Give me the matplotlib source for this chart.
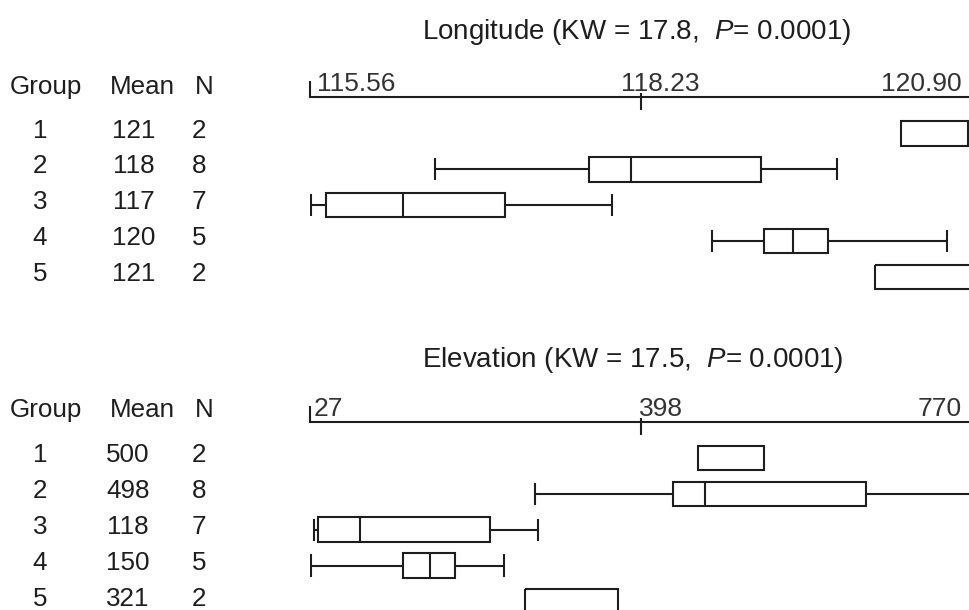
import matplotlib
matplotlib.use("Agg")
import matplotlib.pyplot as plt
from matplotlib.patches import Rectangle
from matplotlib.transforms import blended_transform_factory, offset_copy

plt.rcParams['font.family'] = ['Liberation Sans', 'DejaVu Sans']
plt.rcParams['mathtext.fontset'] = 'custom'
plt.rcParams['mathtext.rm'] = 'Liberation Sans'
plt.rcParams['mathtext.it'] = 'Liberation Sans:italic'

# ---------------- data ----------------
groups = [1, 2, 3, 4, 5]

lon_title = "Longitude (KW = 17.8,  $P$= 0.0001)"
lon_ticks = [115.56, 118.23, 120.90]
lon_ticklabels = ["115.56", "118.23", "120.90"]
lon_mean = [121, 118, 117, 120, 121]
lon_n = [2, 8, 7, 5, 2]
lon_whislo = [None, 116.57, 115.57, 118.80, None]
lon_q1 = [120.33, 117.81, 115.69, 119.22, 120.12]
lon_med = [None, 118.15, 116.31, 119.46, None]
lon_q3 = [120.87, 119.20, 117.13, 119.74, 121.50]
lon_whishi = [None, 119.81, 118.00, 120.70, None]

ele_title = "Elevation (KW = 17.5,  $P$= 0.0001)"
ele_ticks = [27, 398, 770]
ele_ticklabels = ["27", "398", "770"]
ele_mean = [500, 498, 118, 150, 321]
ele_n = [2, 8, 7, 5, 2]
ele_whislo = [None, 280, 32, 28, None]
ele_q1 = [463, 434, 36, 131, 268]
ele_med = [None, 470, 83, 162, None]
ele_q3 = [537, 651, 229, 190, 373]
ele_whishi = [None, 830, 283, 245, None]

# ---------------- layout ----------------
W, H, DPI = 969, 610, 100
fig = plt.figure(figsize=(W / DPI, H / DPI), dpi=DPI)
fig.patch.set_facecolor("white")

ROW_PX = 35.9
YMAX = 5.6
AX_LEFT_PX, AX_RIGHT_PX = 310, 972
INK = "#1e1e1e"
LW = 1.5
BOX_H = 0.68
CAP_H = 0.62


def panel(axis_line_px, title, title_xy_px, ticks, ticklabels, label_offsets,
          mean, n, whislo, q1, med, q3, whishi, header_dy, mean_x):
    height_px = YMAX * ROW_PX
    ax = fig.add_axes([AX_LEFT_PX / W, 1 - (axis_line_px + height_px) / H,
                       (AX_RIGHT_PX - AX_LEFT_PX) / W, height_px / H])
    ax.set_xlim(ticks[0], ticks[-1])
    ax.set_ylim(YMAX, 0)
    for s in ["left", "right", "bottom"]:
        ax.spines[s].set_visible(False)
    ax.spines["top"].set_linewidth(LW)
    ax.spines["top"].set_color(INK)
    ax.set_xticks([])
    ax.set_yticks([])
    ax.patch.set_alpha(0)

    # tick marks: ends point up, middle crosses the line
    up = 16.5 / ROW_PX
    ax.vlines([ticks[0], ticks[-1]], -up, 0, color=INK, lw=LW, clip_on=False)
    ax.vlines([ticks[1]], -4 / ROW_PX, 13 / ROW_PX, color=INK, lw=LW, clip_on=False)

    # tick labels
    for t, lab, (dx, ha) in zip(ticks, ticklabels, label_offsets):
        tr = offset_copy(ax.transData, fig=fig, x=dx, y=6, units='dots')
        ax.text(t, 0, lab, transform=tr, ha=ha, va='baseline', fontsize=19,
                color="#333333", clip_on=False)

    # title
    fig.text(title_xy_px[0] / W, 1 - title_xy_px[1] / H, title, ha='center',
             va='center', fontsize=20, color=INK)

    # boxes
    for i, g in enumerate(groups):
        y = g
        ax.add_patch(Rectangle((q1[i], y - BOX_H / 2), q3[i] - q1[i], BOX_H,
                               fill=False, ec=INK, lw=LW))
        if med[i] is not None:
            ax.vlines(med[i], y - BOX_H / 2, y + BOX_H / 2, color=INK, lw=LW)
        if whislo[i] is not None:
            ax.hlines(y, whislo[i], q1[i], color=INK, lw=LW)
            ax.vlines(whislo[i], y - CAP_H / 2, y + CAP_H / 2, color=INK, lw=LW)
        if whishi[i] is not None:
            ax.hlines(y, q3[i], whishi[i], color=INK, lw=LW)
            ax.vlines(whishi[i], y - CAP_H / 2, y + CAP_H / 2, color=INK, lw=LW)

    # table
    tr = blended_transform_factory(fig.transFigure, ax.transData)
    fs = 18.7
    ax.text(10 / W, header_dy, "Group", transform=tr, ha='left', va='center', fontsize=fs, color=INK)
    ax.text(110 / W, header_dy, "Mean", transform=tr, ha='left', va='center', fontsize=fs, color=INK)
    ax.text(195 / W, header_dy, "N", transform=tr, ha='left', va='center', fontsize=fs, color=INK)
    for i, g in enumerate(groups):
        yy = g - 0.08
        ax.text(40 / W, yy, str(g), transform=tr, ha='center', va='center', fontsize=fs, color=INK)
        ax.text(mean_x / W, yy, str(mean[i]), transform=tr, ha='center', va='center', fontsize=fs, color=INK)
        ax.text(199 / W, yy, str(n[i]), transform=tr, ha='center', va='center', fontsize=fs, color=INK)
    return ax


panel(97.5, lon_title, (637, 32), lon_ticks, lon_ticklabels,
      [(7, 'left'), (-20, 'left'), (-10, 'right')],
      lon_mean, lon_n, lon_whislo, lon_q1, lon_med, lon_q3, lon_whishi, -0.28, 134)
panel(422, ele_title, (633, 360), ele_ticks, ele_ticklabels,
      [(4, 'left'), (-1.5, 'left'), (-10, 'right')],
      ele_mean, ele_n, ele_whislo, ele_q1, ele_med, ele_q3, ele_whishi, -0.33, 128)

fig.savefig("out.png", dpi=DPI, facecolor="white")
